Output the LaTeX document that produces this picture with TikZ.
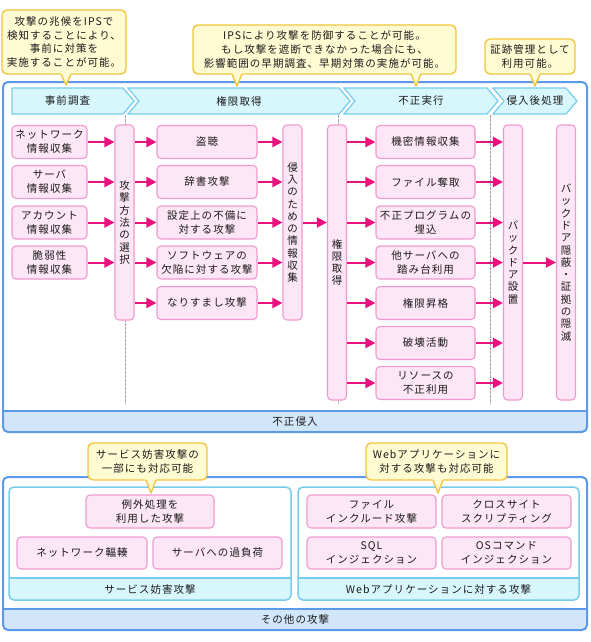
\documentclass[tikz,border=0pt]{standalone}
\usepackage{fontspec}
\setmainfont{Noto Sans CJK JP}[LetterSpace=10]
\usetikzlibrary{arrows.meta}
\definecolor{pinkfill}{HTML}{FDE6F5}
\definecolor{pinkline}{HTML}{F09AD0}
\definecolor{arrowc}{HTML}{E8127E}
\definecolor{callfill}{HTML}{FFFBD2}
\definecolor{callline}{HTML}{F2C63E}
\definecolor{frameline}{HTML}{5A9AE8}
\definecolor{bandfill}{HTML}{D2E6FB}
\definecolor{skyline}{HTML}{78CCEE}
\definecolor{skyfill}{HTML}{D8F7FD}
\definecolor{textc}{HTML}{1A1A1A}
\newcommand\fsb{\fontsize{10.5}{13.8}\selectfont}
\newcommand\fsv{\fontsize{10.5}{12.3}\selectfont}
\newcommand\fsc{\fontsize{10.5}{13.7}\selectfont}
\newcommand\calloutptr[3]{%
  \fill[callfill] (#1-5.5,#2-1.3) -- (#1,#3) -- (#1+5.5,#2-1.3) -- cycle;
  \draw[callline,line width=1.4pt,line join=round] (#1-5,#2) -- (#1,#3) -- (#1+5,#2);}
\begin{document}
\begin{tikzpicture}[x=1pt,y=-1pt,
  pbox/.style={draw=pinkline, fill=pinkfill, rounded corners=4pt, line width=1.1pt,
    minimum height=33pt, inner sep=0pt, align=center, font=\fsb, text=textc},
  colbox/.style={pbox, minimum width=19pt, font=\fsv},
  arr/.style={draw=arrowc, line width=2pt, -{Triangle[length=10pt,width=10pt]}},
  callout/.style={draw=callline, fill=callfill, line width=1.4pt, rounded corners=5pt,
    align=center, font=\fsc, text=textc, inner sep=0pt},
  frame/.style={draw=frameline, line width=2pt, rounded corners=5pt},
  inframe/.style={draw=skyline, line width=1.5pt, rounded corners=5pt},
  chev/.style={draw=skyline, fill=skyfill, line width=1.2pt, line join=miter},
  sep/.style={draw=gray!75, line width=1pt, dash pattern=on 2.5pt off 1.5pt},
  lbl/.style={font=\fsb, text=textc, inner sep=0pt, align=center},
]
\fill[white] (0,0) rectangle (590,642);
\useasboundingbox (0,0) rectangle (590,642);

% ---------- upper frame ----------
\begin{scope}
  \clip[rounded corners=5pt] (3,82) rectangle (587,432);
  \fill[bandfill] (3,411) rectangle (587,432);
\end{scope}
\draw[frameline, line width=1.5pt] (3,411) -- (587,411);
\draw[frame] (3,82) rectangle (587,432);
\node[lbl] (bandA) at (295,421.5) {不正侵入};

% header chevrons
\draw[chev] (12,88) -- (123,88) -- (134,101) -- (123,114) -- (12,114) -- cycle;
\draw[chev] (128,88) -- (339,88) -- (350,101) -- (339,114) -- (128,114) -- (139,101) -- cycle;
\draw[chev] (344,88) -- (487,88) -- (498,101) -- (487,114) -- (344,114) -- (355,101) -- cycle;
\draw[chev] (493,88) -- (566,88) -- (577,101) -- (566,114) -- (493,114) -- (504,101) -- cycle;
\node[lbl] (h1) at (67.5,101) {事前調査};
\node[lbl] (h2) at (239,101) {権限取得};
\node[lbl] (h3) at (421,101) {不正実行};
\node[lbl] (h4) at (535,101) {侵入後処理};

% dotted separators
\draw[sep] (125,115) -- (125,404);
\draw[sep] (338,115) -- (338,404);
\draw[sep] (490,115) -- (490,404);

% left column boxes
\node[pbox, minimum width=75pt] (l1) at (49.5,142) {ネットワーク\\情報収集};
\node[pbox, minimum width=75pt] (l2) at (49.5,182) {サーバ\\情報収集};
\node[pbox, minimum width=75pt] (l3) at (49.5,222.5) {アカウント\\情報収集};
\node[pbox, minimum width=75pt] (l4) at (49.5,262.5) {脆弱性\\情報収集};

\node[colbox, minimum height=195pt] (sel) at (124.5,222.5) {攻\\撃\\方\\法\\の\\選\\択};

\node[pbox, minimum width=100pt] (m1) at (207,142) {盗聴};
\node[pbox, minimum width=100pt] (m2) at (207,182) {辞書攻撃};
\node[pbox, minimum width=100pt] (m3) at (207,222.5) {設定上の不備に\\対する攻撃};
\node[pbox, minimum width=100pt] (m4) at (207,262.5) {ソフトウェアの\\欠陥に対する攻撃};
\node[pbox, minimum width=100pt] (m5) at (207,303) {なりすまし攻撃};

\node[colbox, minimum height=195pt] (info) at (292.5,222.5) {侵\\入\\の\\た\\め\\の\\情\\報\\収\\集};

\node[colbox, minimum height=275pt] (priv) at (337,262.5) {権\\限\\取\\得};

\node[pbox, minimum width=99pt] (r1) at (425.5,142) {機密情報収集};
\node[pbox, minimum width=99pt] (r2) at (425.5,182) {ファイル奪取};
\node[pbox, minimum width=99pt] (r3) at (425.5,222.5) {不正プログラムの\\埋込};
\node[pbox, minimum width=99pt] (r4) at (425.5,262.5) {他サーバへの\\踏み台利用};
\node[pbox, minimum width=99pt] (r5) at (425.5,303) {権限昇格};
\node[pbox, minimum width=99pt] (r6) at (425.5,343) {破壊活動};
\node[pbox, minimum width=99pt] (r7) at (425.5,383) {リソースの\\不正利用};

\node[colbox, minimum height=275pt] (bd) at (513,262.5) {バ\\ッ\\ク\\ド\\ア\\設\\置};
\node[colbox, minimum height=275pt] (hide) at (566,262.5) {バ\\ッ\\ク\\ド\\ア\\隠\\蔽\\・\\証\\拠\\の\\隠\\滅};

% arrows
\foreach \n in {l1,l2,l3,l4} \draw[arr] (\n.east) -- (\n.east -| sel.west);
\foreach \n in {m1,m2,m3,m4,m5} {
  \draw[arr] (\n.west -| sel.east) -- (\n.west);
  \draw[arr] (\n.east) -- (\n.east -| info.west);
}
\draw[arr] (info.east) -- (info.east -| priv.west);
\foreach \n in {r1,r2,r3,r4,r5,r6,r7} {
  \draw[arr] (\n.west -| priv.east) -- (\n.west);
  \draw[arr] (\n.east) -- (\n.east -| bd.west);
}
\draw[arr] (bd.east) -- (bd.east -| hide.west);

% ---------- lower frame ----------
\begin{scope}
  \clip[rounded corners=5pt] (3,477) rectangle (587,630);
  \fill[bandfill] (3,609) rectangle (587,630);
\end{scope}
\draw[frameline, line width=1.5pt] (3,609) -- (587,609);
\draw[frame] (3,477) rectangle (587,630);
\node[lbl] (bandB) at (295,620) {その他の攻撃};

\begin{scope}
  \clip[rounded corners=5pt] (9,487) rectangle (291,600);
  \fill[skyfill] (9,578) rectangle (291,600);
\end{scope}
\draw[skyline, line width=1.2pt] (9,578) -- (291,578);
\draw[inframe] (9,487) rectangle (291,600);
\node[lbl] (bandC) at (150,589.5) {サービス妨害攻撃};

\begin{scope}
  \clip[rounded corners=5pt] (298,487) rectangle (579,600);
  \fill[skyfill] (298,578) rectangle (579,600);
\end{scope}
\draw[skyline, line width=1.2pt] (298,578) -- (579,578);
\draw[inframe] (298,487) rectangle (579,600);
\node[lbl] (bandD) at (438.5,589.5) {Webアプリケーションに対する攻撃};

\node[pbox, minimum width=128pt] (b1) at (150,511.5) {例外処理を\\利用した攻撃};
\node[pbox, minimum width=130pt, minimum height=32pt] (b2) at (82,553) {ネットワーク輻輳};
\node[pbox, minimum width=129pt, minimum height=32pt] (b3) at (217.5,553) {サーバへの過負荷};

\node[pbox, minimum width=129pt] (w1) at (371.5,511.5) {ファイル\\インクルード攻撃};
\node[pbox, minimum width=129pt] (w2) at (506.5,511.5) {クロスサイト\\スクリプティング};
\node[pbox, minimum width=129pt, minimum height=32pt] (w3) at (371.5,553) {SQL\\インジェクション};
\node[pbox, minimum width=129pt, minimum height=32pt] (w4) at (506.5,553) {OSコマンド\\インジェクション};

% ---------- callouts ----------
\node[callout, minimum width=124pt, minimum height=64pt] (c1) at (64,42)
  {攻撃の兆候をIPSで\\検知することにより、\\事前に対策を\\実施することが可能。};
\calloutptr{66}{74}{85}
\node[callout, minimum width=263pt, minimum height=49pt] (c2) at (324.5,49.5)
  {IPSにより攻撃を防御することが可能。\\もし攻撃を遮断できなかった場合にも、\\影響範囲の早期調査、早期対策の実施が可能。};
\calloutptr{237}{74}{86}
\calloutptr{416}{74}{86}
\node[callout, minimum width=90pt, minimum height=35pt] (c3) at (530,56.5)
  {証跡管理として\\利用可能。};
\calloutptr{535}{74}{86}
\node[callout, minimum width=119pt, minimum height=37pt] (c4) at (147.5,461.5)
  {サービス妨害攻撃の\\一部にも対応可能};
\calloutptr{151}{480}{493}
\node[callout, minimum width=141pt, minimum height=37pt] (c5) at (436.5,461.5)
  {Webアプリケーションに\\対する攻撃も対応可能};
\calloutptr{438}{480}{493}
\end{tikzpicture}
\end{document}
